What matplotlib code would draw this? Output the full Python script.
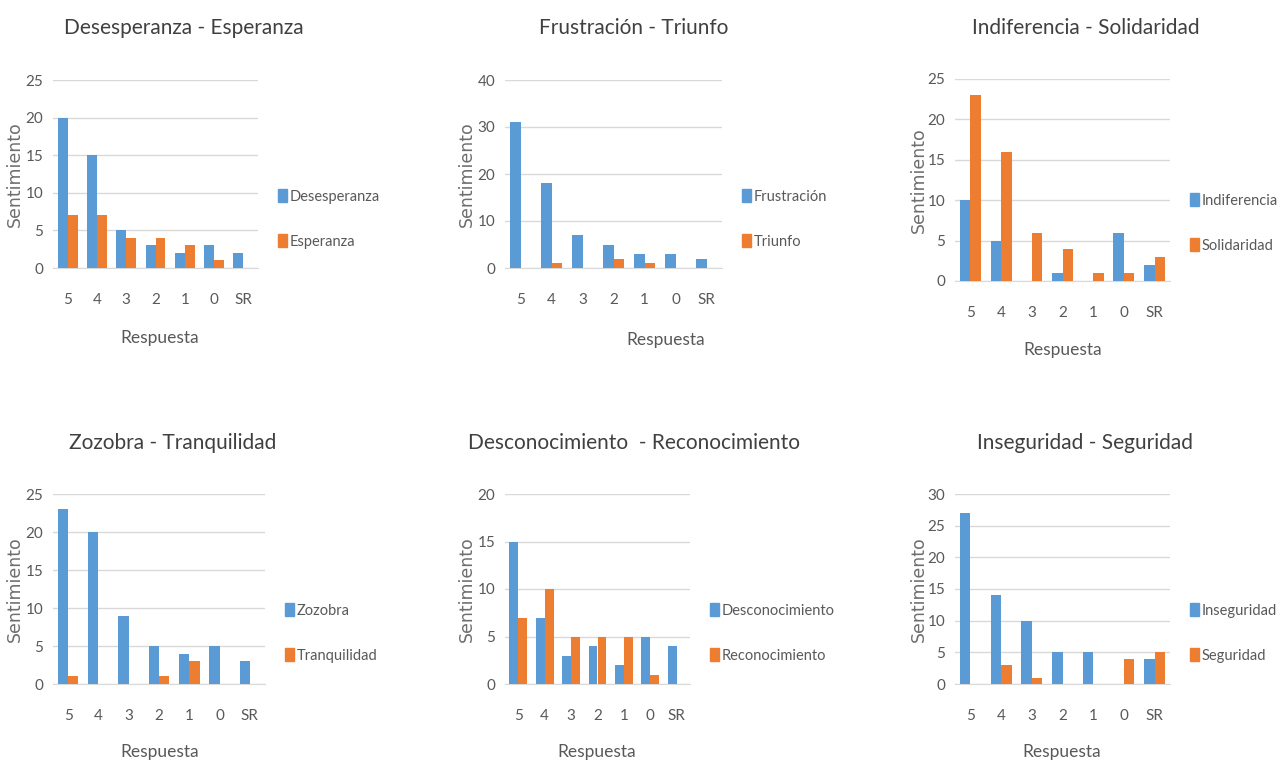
import numpy as np
import matplotlib
matplotlib.use("Agg")
import matplotlib.pyplot as plt
from matplotlib.patches import Patch

respuestas = ["5", "4", "3", "2", "1", "0", "SR"]

titulos = ["Desesperanza - Esperanza", "Frustración - Triunfo", "Indiferencia - Solidaridad",
           "Zozobra - Tranquilidad", "Desconocimiento  - Reconocimiento", "Inseguridad - Seguridad"]
nombres_neg = ["Desesperanza", "Frustración", "Indiferencia", "Zozobra", "Desconocimiento", "Inseguridad"]
nombres_pos = ["Esperanza", "Triunfo", "Solidaridad", "Tranquilidad", "Reconocimiento", "Seguridad"]

desesperanza = [20, 15, 5, 3, 2, 3, 2]
esperanza = [7, 7, 4, 4, 3, 1, 0]
frustracion = [31, 18, 7, 5, 3, 3, 2]
triunfo = [0, 1, 0, 2, 1, 0, 0]
indiferencia = [10, 5, 0, 1, 0, 6, 2]
solidaridad = [23, 16, 6, 4, 1, 1, 3]
zozobra = [23, 20, 9, 5, 4, 5, 3]
tranquilidad = [1, 0, 0, 1, 3, 0, 0]
desconocimiento = [15, 7, 3, 4, 2, 5, 4]
reconocimiento = [7, 10, 5, 5, 5, 1, 0]
inseguridad = [27, 14, 10, 5, 5, 0, 4]
seguridad = [0, 3, 1, 0, 0, 4, 5]

negativos = [desesperanza, frustracion, indiferencia, zozobra, desconocimiento, inseguridad]
positivos = [esperanza, triunfo, solidaridad, tranquilidad, reconocimiento, seguridad]
ymax = [25, 40, 25, 25, 20, 30]
ystep = [5, 10, 5, 5, 5, 5]

AZUL = "#5B9BD5"
NARANJA = "#ED7D31"
GRIS = "#595959"
FUENTE = ["Lato", "DejaVu Sans"]

W, H = 1280, 766
fig = plt.figure(figsize=(12.8, 7.66), dpi=100)

# area de barras en pixeles: left, right, top, bottom
cajas = [(53, 258, 80, 268), (505, 722, 80, 268), (955, 1170, 79, 281),
         (53, 265, 494, 684), (505, 690, 494, 684), (955, 1170, 494, 684)]
titulo_xy = [(184, 28), (634, 28), (1086, 28), (173, 443), (634, 443), (1085, 443)]
xlabel_xy = [(160, 338), (666, 340), (1063, 350), (160, 752), (597, 752), (1062, 752)]
ylabel_x = [18, 470, 922, 18, 470, 922]
leyenda_y = [219, 219, 223, 633, 633, 633]

x = np.arange(len(respuestas))
ancho = 0.34

for i in range(6):
    l, r, t, b = cajas[i]
    ax = fig.add_axes([l / W, 1 - b / H, (r - l) / W, (b - t) / H])
    ax.bar(x - ancho / 2, negativos[i], ancho, color=AZUL, zorder=3)
    ax.bar(x + ancho / 2, positivos[i], ancho, color=NARANJA, zorder=3)
    ax.set_xlim(-0.5, len(respuestas) - 0.5)
    ax.set_ylim(0, ymax[i])
    ax.set_yticks(np.arange(0, ymax[i] + 1, ystep[i]))
    ax.set_xticks(x)
    ax.set_xticklabels(respuestas, family=FUENTE, fontsize=11, color=GRIS)
    for lab in ax.get_yticklabels():
        lab.set_family(FUENTE)
        lab.set_fontsize(11)
        lab.set_color(GRIS)
    ax.grid(axis="y", color="#D9D9D9", linewidth=1, zorder=0)
    for s in ["top", "right", "left"]:
        ax.spines[s].set_visible(False)
    ax.spines["bottom"].set_color("#D9D9D9")
    ax.tick_params(length=0)
    ax.tick_params(axis="x", pad=18)
    ax.tick_params(axis="y", pad=7)
    ax.set_ylabel("Sentimiento", fontsize=12.5, color="#6E6E6E", family="DejaVu Sans")
    ax.yaxis.set_label_coords((ylabel_x[i] + 6 - l) / (r - l), 0.5)

    tx, ty = titulo_xy[i]
    fig.text(tx / W, 1 - ty / H, titulos[i], ha="center", va="center",
             fontsize=15, color="#404040", family=FUENTE)
    lx, ly = xlabel_xy[i]
    fig.text(lx / W, 1 - ly / H, "Respuesta", ha="center", va="center",
             fontsize=12.5, color=GRIS, family=FUENTE)

    handles = [Patch(color=AZUL, label=nombres_neg[i]), Patch(color=NARANJA, label=nombres_pos[i])]
    ax.legend(handles=handles, loc="center left",
              bbox_to_anchor=(1 + 20 / (r - l), (b - leyenda_y[i]) / (b - t)),
              frameon=False, borderpad=0, borderaxespad=0,
              handlelength=0.6, handleheight=1.0, handletextpad=0.2, labelspacing=2.1,
              prop={"family": FUENTE, "size": 10.5}, labelcolor=GRIS)

fig.savefig("out.png", dpi=100, facecolor="white")
